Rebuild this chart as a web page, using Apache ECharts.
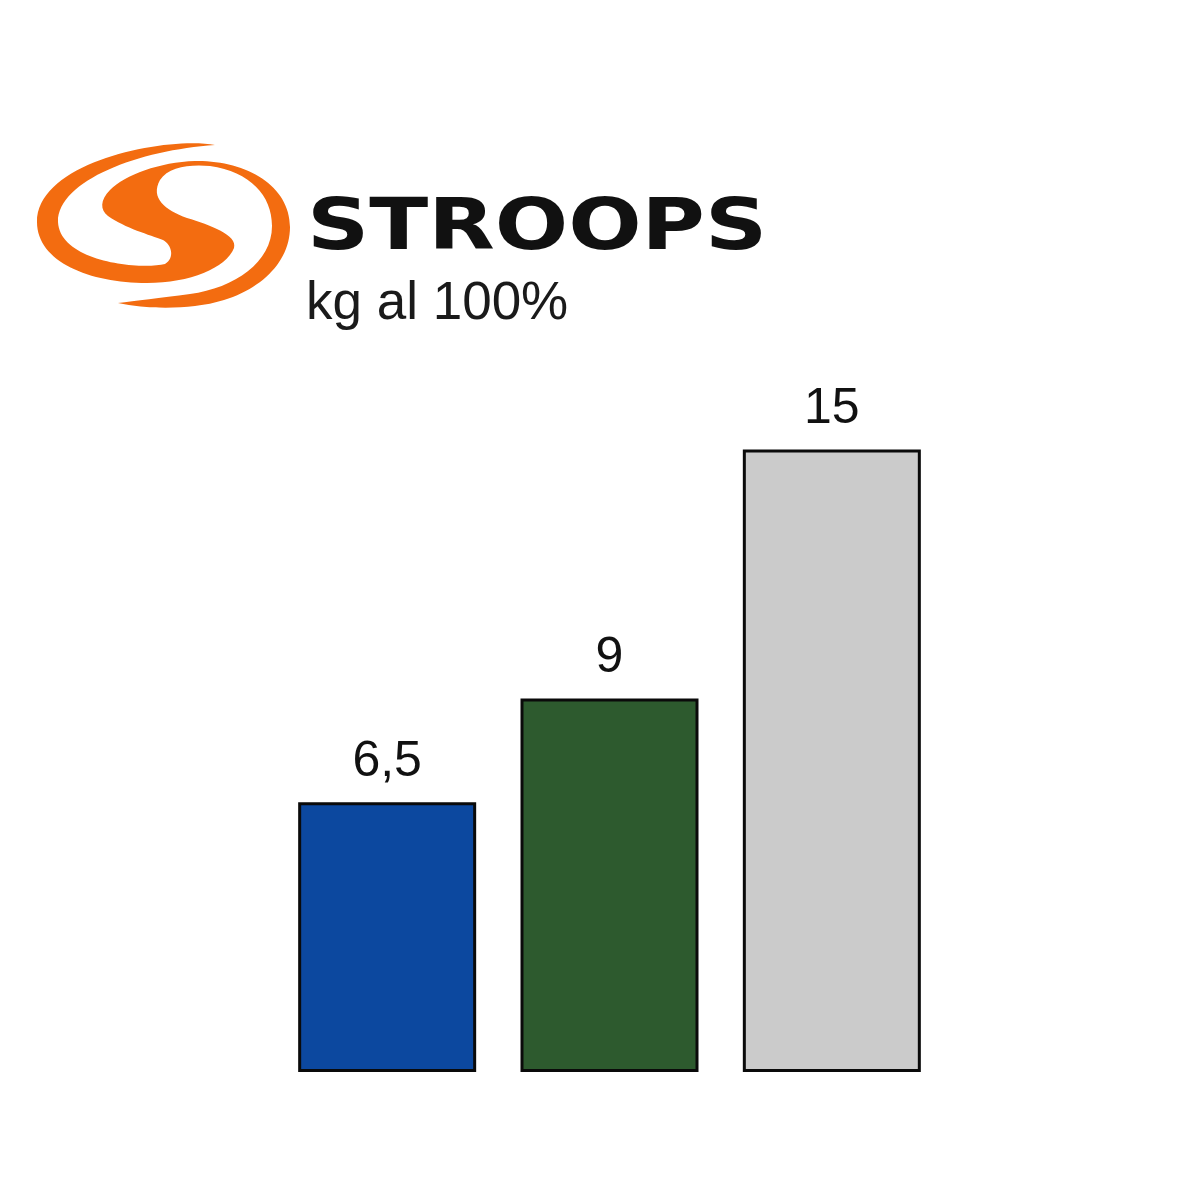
<!DOCTYPE html>
<html>
<head>
<meta charset="utf-8">
<script src="https://cdn.jsdelivr.net/npm/echarts@6/dist/echarts.min.js"></script>
<style>
html,body{margin:0;padding:0;background:#ffffff;}
#chart{width:1200px;height:1200px;}
</style>
</head>
<body>
<div id="chart"></div>
<script>
const categories = ['A', 'B', 'C'];
const values = [6.5, 9, 15];
const barColors = ['#0c489f', '#2d5a2e', '#cbcbcb'];
const brandName = 'STROOPS';
const subtitle = 'kg al 100%';

const orange = '#f36c10';

const logoPath =
  'M215,145 C170,136 37,160 37,222 ' +
  'C37,262 90,283 147,283 ' +
  'C190,283 226,268 234,248 ' +
  'C238,235 210,225 187,218 ' +
  'C165,210 150,198 160,180 ' +
  'C168,167 190,164 210,166 ' +
  'C250,172 272,195 272,226 ' +
  'C272,262 235,288 190,294 ' +
  'C160,298 135,301 118,303 ' +
  'C140,308 170,309 195,306 ' +
  'C250,300 290,268 290,227 ' +
  'C290,185 245,160 195,161 ' +
  'C160,162 125,175 110,190 ' +
  'C100,200 100,210 108,216 ' +
  'C125,228 150,235 163,240 ' +
  'C172,245 175,258 165,264 ' +
  'C140,270 60,262 58,222 ' +
  'C58,180 140,150 215,145 Z';

const chart = echarts.init(document.getElementById('chart'), null, {renderer: 'canvas'});

const option = {
  backgroundColor: '#ffffff',
  animation: false,
  grid: {left: 276, right: 257, top: 242, bottom: 128, containLabel: false},
  xAxis: {
    type: 'category',
    data: categories,
    show: false
  },
  yAxis: {
    type: 'value',
    min: 0,
    max: 20,
    show: false
  },
  series: [{
    type: 'bar',
    data: values.map((v, i) => ({
      value: v,
      itemStyle: {color: barColors[i]}
    })),
    barWidth: 178,
    itemStyle: {borderColor: '#0a0a0a', borderWidth: 3},
    label: {
      show: true,
      position: 'top',
      distance: 15,
      fontFamily: 'Liberation Sans, Arial, sans-serif',
      fontSize: 50,
      color: '#111111',
      formatter: p => String(p.value).replace('.', ',')
    }
  }, {
    type: 'custom',
    coordinateSystem: 'none',
    silent: true,
    data: [0],
    renderItem: function () {
      return {
        type: 'path',
        shape: {pathData: logoPath},
        style: {fill: orange}
      };
    }
  }],
  graphic: [
    {
      type: 'text',
      x: 307,
      y: 194,
      scaleX: 1.2,
      style: {
        text: brandName,
        font: 'bold 72px "DejaVu Sans", sans-serif',
        fill: '#111111',
        textAlign: 'left',
        textVerticalAlign: 'top'
      }
    },
    {
      type: 'text',
      x: 306,
      y: 278,
      style: {
        text: subtitle,
        font: '53px "Liberation Sans", Arial, sans-serif',
        fill: '#1a1a1a',
        textAlign: 'left',
        textVerticalAlign: 'top'
      }
    }
  ]
};

chart.setOption(option);
</script>
</body>
</html>
